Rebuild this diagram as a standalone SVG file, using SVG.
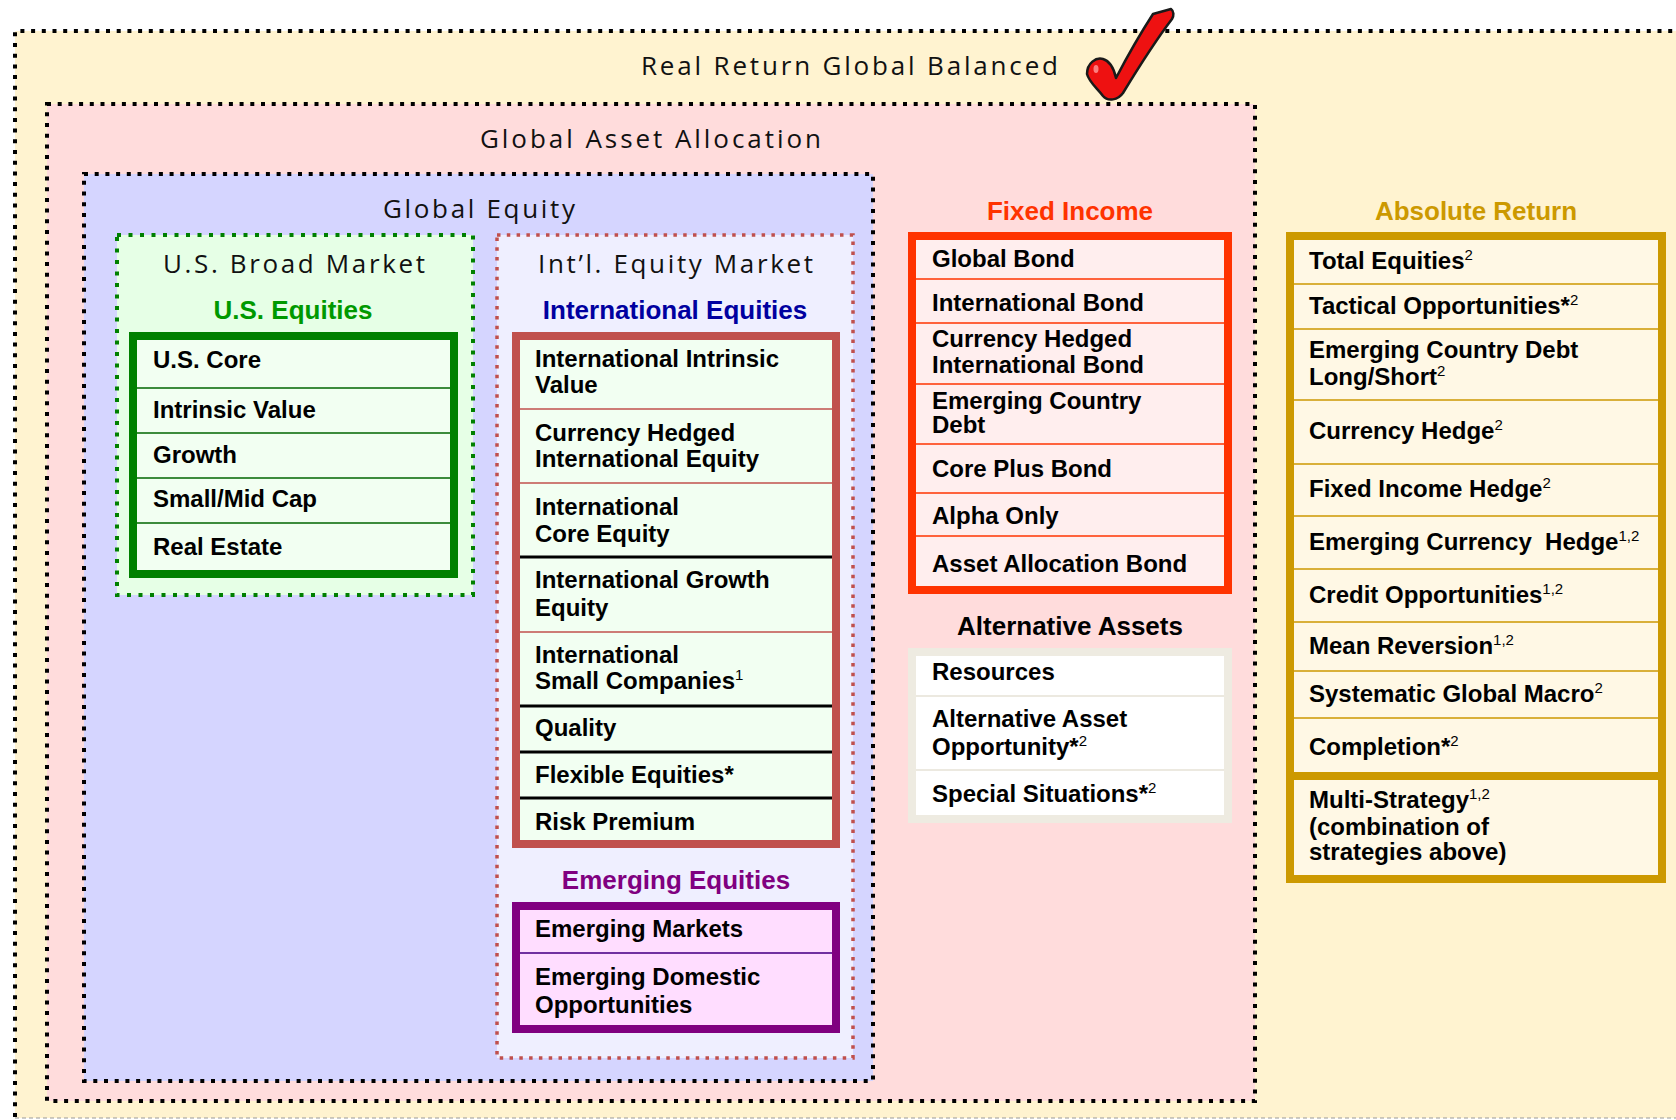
<svg xmlns="http://www.w3.org/2000/svg" width="1676" height="1120" viewBox="0 0 1676 1120">
  <style>
    .title { font-family: "Open Sans", "Liberation Sans", Arial, sans-serif; font-weight: normal; font-size: 26px; fill: #111; }
    .head { font-family: "Liberation Sans", Arial, sans-serif; font-weight: bold; font-size: 26px; text-anchor: middle; }
    .item { font-family: "Liberation Sans", Arial, sans-serif; font-weight: bold; font-size: 24px; fill: #000; }
    .sup { font-weight: normal; font-size: 15px; }
    .dotted { stroke-dasharray: 4 6.7; }
  </style>

  <!-- outermost container: Real Return Global Balanced -->
  <g id="real-return-global-balanced">
    <rect x="15" y="31" width="1661" height="1087" fill="#FFF3D0"/>
    <path d="M15,1117 V31 H1676" fill="none" stroke="#000" stroke-width="4" class="dotted"/>
    <line x1="15" y1="1118" x2="1676" y2="1118" stroke="#9a9a9a" stroke-width="1.2" stroke-dasharray="4 3"/>
    <text class="title" x="641" y="75" textLength="417" lengthAdjust="spacing">Real Return Global Balanced</text>
    <!-- red tick mark -->
    <path d="M1087,74 C1087,63 1096,57 1103,59 C1110,61 1114,69 1116,78 C1128,55 1142,31 1153,14 L1171,9 C1174,11 1174,16 1172,19 C1153,44 1137,70 1123,93 C1118,100 1108,102 1103,96 C1097,88 1089,82 1087,74 Z" fill="#EE1111" stroke="#1a1a1a" stroke-width="2.5" stroke-linejoin="round"/>
    <ellipse cx="1096" cy="69" rx="2.5" ry="4" fill="#ff9a9a" opacity="0.8"/>
  </g>

  <!-- Global Asset Allocation -->
  <g id="global-asset-allocation">
    <rect x="47" y="104" width="1208" height="997" fill="#FFDCDC" stroke="#000" stroke-width="4" class="dotted"/>
    <text class="title" x="480" y="148" textLength="341" lengthAdjust="spacing">Global Asset Allocation</text>
  </g>

  <!-- Global Equity -->
  <g id="global-equity">
    <rect x="84" y="174" width="789" height="907" fill="#D5D5FF" stroke="#000" stroke-width="4" class="dotted"/>
    <text class="title" x="383" y="218" textLength="192" lengthAdjust="spacing">Global Equity</text>
  </g>

  <!-- U.S. Broad Market -->
  <g id="us-broad-market">
    <rect x="117" y="235" width="356" height="360" fill="#E6FFE6" stroke="#008000" stroke-width="4" stroke-dasharray="4 7.5"/>
    <text class="title" x="163" y="273" textLength="262" lengthAdjust="spacing">U.S. Broad Market</text>
  </g>

  <g id="us-equities">
    <text class="head" x="293" y="319" fill="#009900">U.S. Equities</text>
    <rect x="133" y="336" width="321" height="238" fill="#F2FFF2"/>
    <g stroke="#006600" stroke-width="1.5">
      <line x1="137" y1="388" x2="450" y2="388"/>
      <line x1="137" y1="433" x2="450" y2="433"/>
      <line x1="137" y1="478" x2="450" y2="478"/>
      <line x1="137" y1="523" x2="450" y2="523"/>
    </g>
    <rect x="133" y="336" width="321" height="238" fill="none" stroke="#008000" stroke-width="8"/>
    <text class="item" x="153" y="368">U.S. Core</text>
    <text class="item" x="153" y="418">Intrinsic Value</text>
    <text class="item" x="153" y="463">Growth</text>
    <text class="item" x="153" y="507">Small/Mid Cap</text>
    <text class="item" x="153" y="555">Real Estate</text>
  </g>

  <!-- International Equity Market -->
  <g id="intl-equity-market">
    <rect x="497" y="235" width="356" height="823" fill="#EFEFFF" stroke="#C0504D" stroke-width="3.5" stroke-dasharray="3.5 6.3"/>
    <text class="title" x="538" y="273" textLength="275" lengthAdjust="spacing">Int’l. Equity Market</text>
  </g>

  <g id="international-equities">
    <text class="head" x="675" y="319" fill="#0000A0">International Equities</text>
    <rect x="516" y="336" width="320" height="508" fill="#F2FFF2"/>
    <g stroke="#C0504D" stroke-width="1.5">
      <line x1="512" y1="409" x2="836" y2="409"/>
      <line x1="512" y1="483" x2="836" y2="483"/>
      <line x1="512" y1="632" x2="836" y2="632"/>
    </g>
    <g stroke="#000" stroke-width="3">
      <line x1="512" y1="557" x2="836" y2="557"/>
      <line x1="512" y1="706" x2="836" y2="706"/>
      <line x1="512" y1="752" x2="836" y2="752"/>
      <line x1="512" y1="798" x2="836" y2="798"/>
    </g>
    <rect x="516" y="336" width="320" height="508" fill="none" stroke="#C0504D" stroke-width="8"/>
    <text class="item" x="535" y="367">International Intrinsic</text>
    <text class="item" x="535" y="393">Value</text>
    <text class="item" x="535" y="441">Currency Hedged</text>
    <text class="item" x="535" y="467">International Equity</text>
    <text class="item" x="535" y="515">International</text>
    <text class="item" x="535" y="542">Core Equity</text>
    <text class="item" x="535" y="588">International Growth</text>
    <text class="item" x="535" y="616">Equity</text>
    <text class="item" x="535" y="663">International</text>
    <text class="item" x="535" y="689">Small Companies<tspan class="sup" dy="-9">1</tspan></text>
    <text class="item" x="535" y="736">Quality</text>
    <text class="item" x="535" y="783">Flexible Equities*</text>
    <text class="item" x="535" y="830">Risk Premium</text>
  </g>

  <g id="emerging-equities">
    <text class="head" x="676" y="889" fill="#800080">Emerging Equities</text>
    <rect x="516" y="906" width="320" height="123" fill="#FFDDFF"/>
    <line x1="512" y1="953" x2="836" y2="953" stroke="#7030A0" stroke-width="2"/>
    <rect x="516" y="906" width="320" height="123" fill="none" stroke="#800080" stroke-width="8"/>
    <text class="item" x="535" y="937">Emerging Markets</text>
    <text class="item" x="535" y="985">Emerging Domestic</text>
    <text class="item" x="535" y="1013">Opportunities</text>
  </g>

  <!-- Fixed Income -->
  <g id="fixed-income">
    <text class="head" x="1070" y="220" fill="#FF3300">Fixed Income</text>
    <rect x="912" y="236" width="316" height="354" fill="#FFEEEE"/>
    <g stroke="#FF3300" stroke-width="1.5">
      <line x1="916" y1="279" x2="1232" y2="279"/>
      <line x1="916" y1="323" x2="1232" y2="323"/>
      <line x1="916" y1="384" x2="1232" y2="384"/>
      <line x1="916" y1="444" x2="1232" y2="444"/>
      <line x1="916" y1="493" x2="1232" y2="493"/>
      <line x1="916" y1="536" x2="1232" y2="536"/>
    </g>
    <rect x="912" y="236" width="316" height="354" fill="none" stroke="#FF3300" stroke-width="8"/>
    <text class="item" x="932" y="267">Global Bond</text>
    <text class="item" x="932" y="311">International Bond</text>
    <text class="item" x="932" y="347">Currency Hedged</text>
    <text class="item" x="932" y="373">International Bond</text>
    <text class="item" x="932" y="409">Emerging Country</text>
    <text class="item" x="932" y="433">Debt</text>
    <text class="item" x="932" y="477">Core Plus Bond</text>
    <text class="item" x="932" y="524">Alpha Only</text>
    <text class="item" x="932" y="572">Asset Allocation Bond</text>
  </g>

  <!-- Alternative Assets -->
  <g id="alternative-assets">
    <text class="head" x="1070" y="635" fill="#000">Alternative Assets</text>
    <rect x="912" y="652" width="316" height="167" fill="#FFFFFF"/>
    <g stroke="#E6E2D6" stroke-width="1.5">
      <line x1="916" y1="696" x2="1224" y2="696"/>
      <line x1="916" y1="770" x2="1224" y2="770"/>
    </g>
    <rect x="912" y="652" width="316" height="167" fill="none" stroke="#EEEBE1" stroke-width="8"/>
    <text class="item" x="932" y="680">Resources</text>
    <text class="item" x="932" y="727">Alternative Asset</text>
    <text class="item" x="932" y="755">Opportunity*<tspan class="sup" dy="-9">2</tspan></text>
    <text class="item" x="932" y="802">Special Situations*<tspan class="sup" dy="-9">2</tspan></text>
  </g>

  <!-- Absolute Return -->
  <g id="absolute-return">
    <text class="head" x="1476" y="220" fill="#CC9900">Absolute Return</text>
    <rect x="1290" y="236" width="372" height="643" fill="#FFF8E5"/>
    <g stroke="#CC9900" stroke-width="1.5">
      <line x1="1294" y1="284" x2="1658" y2="284"/>
      <line x1="1294" y1="329" x2="1658" y2="329"/>
      <line x1="1294" y1="400" x2="1658" y2="400"/>
      <line x1="1294" y1="464" x2="1658" y2="464"/>
      <line x1="1294" y1="516" x2="1658" y2="516"/>
      <line x1="1294" y1="569" x2="1658" y2="569"/>
      <line x1="1294" y1="622" x2="1658" y2="622"/>
      <line x1="1294" y1="671" x2="1658" y2="671"/>
      <line x1="1294" y1="718" x2="1658" y2="718"/>
    </g>
    <line x1="1290" y1="776" x2="1662" y2="776" stroke="#CC9900" stroke-width="8"/>
    <rect x="1290" y="236" width="372" height="643" fill="none" stroke="#CC9900" stroke-width="8"/>
    <text class="item" x="1309" y="269">Total Equities<tspan class="sup" dy="-9">2</tspan></text>
    <text class="item" x="1309" y="314">Tactical Opportunities*<tspan class="sup" dy="-9">2</tspan></text>
    <text class="item" x="1309" y="358">Emerging Country Debt</text>
    <text class="item" x="1309" y="385">Long/Short<tspan class="sup" dy="-9">2</tspan></text>
    <text class="item" x="1309" y="439">Currency Hedge<tspan class="sup" dy="-9">2</tspan></text>
    <text class="item" x="1309" y="497">Fixed Income Hedge<tspan class="sup" dy="-9">2</tspan></text>
    <text class="item" x="1309" y="550" style="white-space:pre">Emerging Currency  Hedge<tspan class="sup" dy="-9">1,2</tspan></text>
    <text class="item" x="1309" y="603">Credit Opportunities<tspan class="sup" dy="-9">1,2</tspan></text>
    <text class="item" x="1309" y="654">Mean Reversion<tspan class="sup" dy="-9">1,2</tspan></text>
    <text class="item" x="1309" y="702">Systematic Global Macro<tspan class="sup" dy="-9">2</tspan></text>
    <text class="item" x="1309" y="755">Completion*<tspan class="sup" dy="-9">2</tspan></text>
    <text class="item" x="1309" y="808">Multi-Strategy<tspan class="sup" dy="-9">1,2</tspan></text>
    <text class="item" x="1309" y="835">(combination of</text>
    <text class="item" x="1309" y="860">strategies above)</text>
  </g>

  <g id="connectors"/>
</svg>
